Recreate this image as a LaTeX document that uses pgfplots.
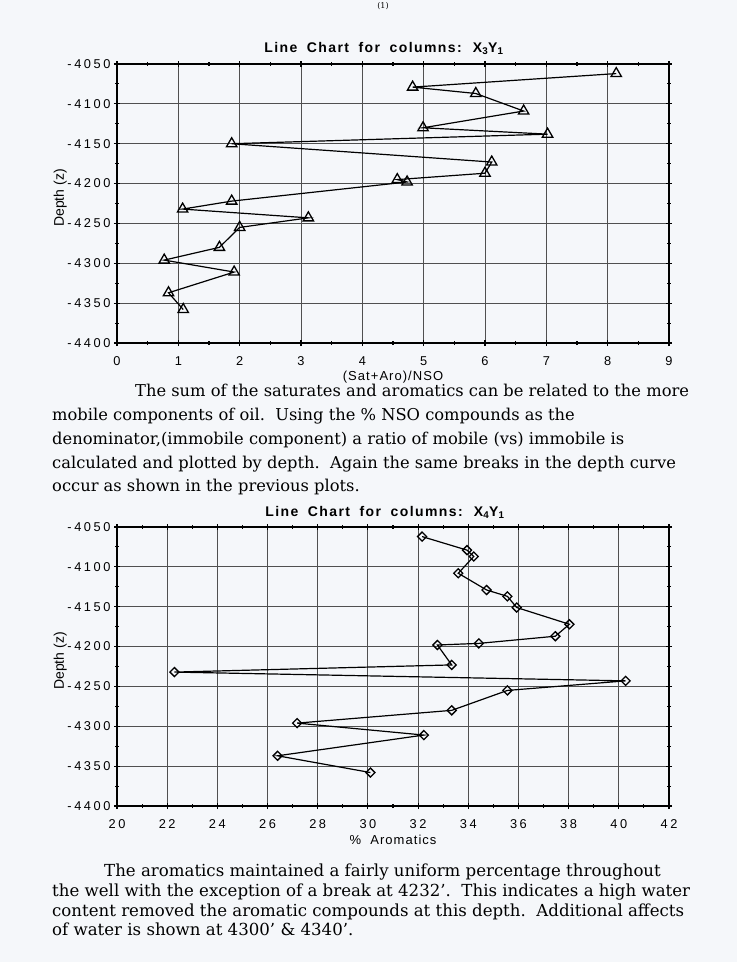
\documentclass[border=0pt]{standalone}
\usepackage{fontspec}
\setmainfont{DejaVu Serif}
\newfontfamily\chartfont[LetterSpace=20]{Liberation Sans}
\newfontfamily\labelfont[LetterSpace=8]{Liberation Sans}
\newfontfamily\plainsans{Liberation Sans}
\newfontfamily\titlefont[LetterSpace=10,WordSpace=1.8]{Liberation Sans}
\usepackage{pgfplots}
\usepackage{pgfplotstable}
\pgfplotsset{compat=1.18}

\definecolor{paper}{RGB}{245,247,250}
\definecolor{gridc}{RGB}{80,80,80}

% (Sat+Aro)/NSO against depth
\pgfplotstableread{
ratio depth
8.14 -4062
4.82 -4079
5.85 -4087
6.63 -4109
4.99 -4130
7.02 -4138
1.87 -4150
6.11 -4173
6.00 -4187
4.57 -4195
4.73 -4198
1.87 -4222
1.07 -4232
3.12 -4243
2.00 -4255
1.67 -4280
0.77 -4296
1.91 -4311
0.84 -4337
1.08 -4358
}\ratiodata

% % aromatics against depth
\pgfplotstableread{
arom depth
32.16 -4062
33.95 -4079
34.22 -4087
33.60 -4108
34.73 -4129
35.56 -4137
35.93 -4151
38.03 -4172
37.47 -4187
34.42 -4196
32.77 -4198
33.34 -4223
22.29 -4232
40.27 -4243
35.56 -4255
33.34 -4280
27.18 -4296
32.23 -4311
26.40 -4337
30.10 -4358
}\aromdata

\pgfplotsset{
  depthaxis/.style={
    scale only axis, width=552pt, height=279pt, anchor=south west,
    ymin=-4400, ymax=-4050,
    ytick={-4400,-4350,-4300,-4250,-4200,-4150,-4100,-4050},
    yticklabels={-4400,-4350,-4300,-4250,-4200,-4150,-4100,-4050},
    minor x tick num=1, minor y tick num=1,
    grid=major,
    major grid style={gridc, line width=0.9pt},
    axis line style={black, line width=1.3pt},
    tick align=center,
    major tick length=6pt, minor tick length=4pt,
    tick style={black, line width=1.1pt},
    ticklabel style={font=\chartfont\fontsize{12.8}{14}\selectfont},
    xticklabel style={yshift=-7pt},
    ylabel={Depth (z)},
    ylabel style={at={(axis description cs:-0.103,0.52)}, anchor=center,
      font=\plainsans\fontsize{14}{16}\selectfont},
    xlabel style={at={(axis description cs:0.5,-0.121)}, anchor=center,
      font=\labelfont\fontsize{13}{15}\selectfont},
    axis background/.style={fill=paper},
  },
}

\begin{document}
\begin{tikzpicture}
\useasboundingbox[fill=paper] (0,0) rectangle (737pt,-962pt);
\node[anchor=base, inner sep=0, font=\fontsize{8}{9}\selectfont] at (383pt,-8.5pt) {(1)};

% chart 1
\node[anchor=base, inner sep=0, font=\titlefont\bfseries\fontsize{14}{16}\selectfont]
  at (384pt,-52pt) {Line Chart for columns: X\textsubscript{3}Y\textsubscript{1}};
\begin{axis}[depthaxis, at={(117pt,-343pt)},
    xmin=0, xmax=9, xtick={0,1,2,3,4,5,6,7,8,9},
    xticklabels={0,1,2,3,4,5,6,7,8,9},
    xlabel={(Sat+Aro)/NSO}]
  \addplot[black, line width=1.2pt, mark=triangle, mark size=6pt,
    mark options={fill=paper, line width=1.3pt}]
    table[x=ratio, y=depth] {\ratiodata};
\end{axis}

\begin{scope}[font=\fontsize{16.3}{18}\selectfont, every node/.style={anchor=base west, inner sep=0}]
\node at (135pt,-396.5pt) {The sum of the saturates and aromatics can be related to the more};
\node at (52pt,-420pt) {mobile components of oil.\ \ Using the \% NSO compounds as the};
\node at (52pt,-444pt) {denominator,(immobile component) a ratio of mobile (vs) immobile is};
\node at (52pt,-468pt) {calculated and plotted by depth.\ \ Again the same breaks in the depth curve};
\node at (52pt,-491.5pt) {occur as shown in the previous plots.};
\end{scope}

% chart 2
\node[anchor=base, inner sep=0, font=\titlefont\bfseries\fontsize{14}{16}\selectfont]
  at (385pt,-516pt) {Line Chart for columns: X\textsubscript{4}Y\textsubscript{1}};
\begin{axis}[depthaxis, at={(117pt,-806pt)},
    xmin=20, xmax=42, xtick={20,22,24,26,28,30,32,34,36,38,40,42},
    xticklabels={20,22,24,26,28,30,32,34,36,38,40,42},
    xlabel={\%\ \ Aromatics}]
  \addplot[black, line width=1.2pt, mark=square, mark size=3.2pt,
    mark options={fill=paper, line width=1.3pt, rotate=45}]
    table[x=arom, y=depth] {\aromdata};
\end{axis}

\begin{scope}[font=\fontsize{16.6}{18}\selectfont, every node/.style={anchor=base west, inner sep=0}]
\node at (104pt,-876pt) {The aromatics maintained a fairly uniform percentage throughout};
\node at (52pt,-896pt) {the well with the exception of a break at 4232'.\ \ This indicates a high water};
\node at (52pt,-916.5pt) {content removed the aromatic compounds at this depth.\ \ Additional affects};
\node at (52pt,-935.5pt) {of water is shown at 4300' \& 4340'.};
\end{scope}
\end{tikzpicture}
\end{document}
